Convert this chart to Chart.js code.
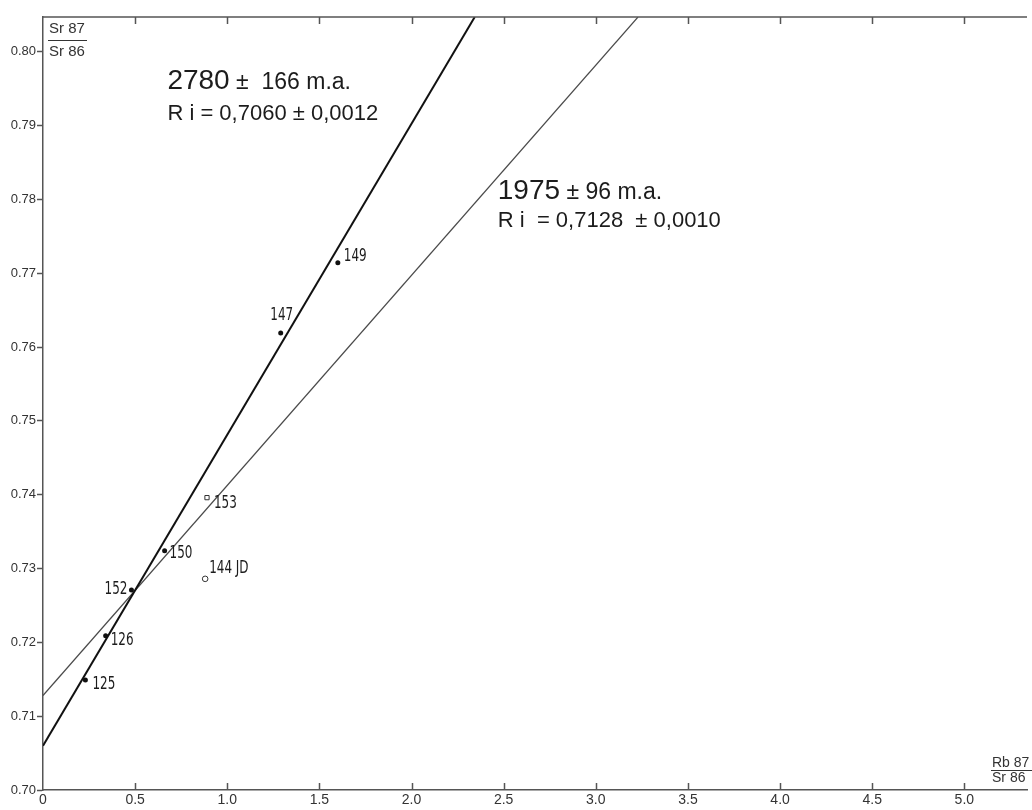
<!DOCTYPE html>
<html>
<head>
<meta charset="utf-8">
<script src="https://cdn.jsdelivr.net/npm/chart.js@4"></script>
<style>
  body { margin: 0; background: #fff; }
</style>
</head>
<body>
<canvas id="isochron" width="1032" height="810"></canvas>
<script>
// samples: Rb87/Sr86 against Sr87/Sr86
var sampleIds = ['125', '126', '152', '150', '144 JD', '153', '147', '149'];
var rbSr = [0.23, 0.34, 0.48, 0.66, 0.88, 0.89, 1.29, 1.60];
var srSr = [0.7149, 0.7209, 0.7271, 0.7324, 0.7286, 0.7396, 0.7619, 0.7714];

// the two isochrons, drawn up to the top of the frame
var isoOldX = [0, 2.343];
var isoOldY = [0.7060, 0.8047];
var isoYoungX = [0, 3.229];
var isoYoungY = [0.7128, 0.8047];

var xTicks = [0, 0.5, 1.0, 1.5, 2.0, 2.5, 3.0, 3.5, 4.0, 4.5, 5.0];
var xTickLabels = ['0', '0.5', '1.0', '1.5', '2.0', '2.5', '3.0', '3.5', '4.0', '4.5', '5.0'];
var yTicks = [0.70, 0.71, 0.72, 0.73, 0.74, 0.75, 0.76, 0.77, 0.78, 0.79, 0.80];
var yTickLabels = ['0.70', '0.71', '0.72', '0.73', '0.74', '0.75', '0.76', '0.77', '0.78', '0.79', '0.80'];

// marker kind per sample (everything else is a filled dot)
var openCircle = ['144 JD'];
var openSquare = ['153'];

var narrow = "'Liberation Sans Narrow', 'DejaVu Sans Condensed', sans-serif";
var plain = "'Liberation Sans', Arimo, sans-serif";
var ink = '#1c1c1c';

function pts(xs, ys, keep) {
    var out = [];
    for (var i = 0; i < xs.length; i++) {
        if (!keep || keep(i)) out.push({x: xs[i], y: ys[i], id: sampleIds[i]});
    }
    return out;
}

// where each sample label sits relative to its marker (px)
var labelOffset = {
    '125': [7, 4, 'left'], '126': [5, 5, 'left'], '152': [-4, -1, 'right'],
    '150': [5, 3, 'left'], '144 JD': [4, -11, 'left'], '153': [7, 6, 'left'],
    '147': [1, -18, 'center'], '149': [6, -7, 'left']
};

var overlay = {
    id: 'overlay',
    afterDatasetsDraw: function(chart) {
        var ctx = chart.ctx, a = chart.chartArea;
        var x = chart.scales.x, y = chart.scales.y;
        ctx.save();
        // top frame line
        ctx.strokeStyle = '#555';
        ctx.lineWidth = 1.5;
        ctx.beginPath();
        ctx.moveTo(a.left, a.top);
        ctx.lineTo(a.right, a.top);
        ctx.stroke();
        // inward ticks top and bottom
        xTicks.forEach(function(v) {
            if (v === 0) return;
            var px = Math.round(x.getPixelForValue(v)) + 0.5;
            ctx.beginPath();
            ctx.moveTo(px, a.bottom); ctx.lineTo(px, a.bottom - 7);
            ctx.moveTo(px, a.top); ctx.lineTo(px, a.top + 7);
            ctx.stroke();
        });
        // sample labels, squeezed to look like the condensed lettering
        ctx.fillStyle = ink;
        ctx.font = '18px ' + narrow;
        ctx.textBaseline = 'middle';
        var sx = 0.74;
        for (var i = 0; i < sampleIds.length; i++) {
            var o = labelOffset[sampleIds[i]];
            ctx.save();
            ctx.translate(x.getPixelForValue(rbSr[i]) + o[0], y.getPixelForValue(srSr[i]) + o[1]);
            ctx.scale(sx, 1);
            ctx.textAlign = o[2];
            ctx.fillText(sampleIds[i], 0, 0);
            ctx.restore();
        }
        // age annotations
        ctx.textBaseline = 'alphabetic';
        ctx.textAlign = 'left';
        function age(big, rest, ri, vx, vy1, vy2) {
            var px = x.getPixelForValue(vx);
            ctx.font = '28px ' + plain;
            ctx.fillText(big, px, y.getPixelForValue(vy1));
            var w = ctx.measureText(big).width;
            ctx.font = '23px ' + plain;
            ctx.fillText(rest, px + w, y.getPixelForValue(vy1));
            ctx.font = '22px ' + plain;
            ctx.fillText(ri, px, y.getPixelForValue(vy2));
        }
        age('2780', ' \u00b1  166 m.a.', 'R i = 0,7060 \u00b1 0,0012', 0.675, 0.7949, 0.7908);
        age('1975', ' \u00b1 96 m.a.', 'R i  = 0,7128  \u00b1 0,0010', 2.468, 0.7801, 0.7763);
        // axis titles as fractions
        ctx.fillStyle = '#333';
        ctx.strokeStyle = '#333';
        ctx.lineWidth = 1;
        ctx.font = '15px ' + plain;
        ctx.fillText('Sr 87', a.left + 6, 33);
        ctx.fillText('Sr 86', a.left + 6, 56);
        ctx.beginPath(); ctx.moveTo(a.left + 5, 40.5); ctx.lineTo(a.left + 44, 40.5); ctx.stroke();
        ctx.font = '14px ' + plain;
        ctx.fillText('Rb 87', 992, 767);
        ctx.fillText('Sr 86', 992, 782);
        ctx.beginPath(); ctx.moveTo(991, 770.5); ctx.lineTo(1032, 770.5); ctx.stroke();
        ctx.restore();
    }
};

var ctx = document.getElementById('isochron').getContext('2d');
var chart = new Chart(ctx, {
    type: 'scatter',
    data: {
        datasets: [
            {
                label: '2780 m.a.',
                data: [{x: isoOldX[0], y: isoOldY[0]}, {x: isoOldX[1], y: isoOldY[1]}],
                showLine: true, borderColor: '#111', borderWidth: 2, pointRadius: 0
            },
            {
                label: '1975 m.a.',
                data: [{x: isoYoungX[0], y: isoYoungY[0]}, {x: isoYoungX[1], y: isoYoungY[1]}],
                showLine: true, borderColor: '#4a4a4a', borderWidth: 1.2, pointRadius: 0
            },
            {
                label: 'samples',
                data: pts(rbSr, srSr, function(i) {
                    return openCircle.indexOf(sampleIds[i]) < 0 && openSquare.indexOf(sampleIds[i]) < 0;
                }),
                pointStyle: 'circle', pointRadius: 2.5, backgroundColor: '#111', borderColor: '#111', borderWidth: 0
            },
            {
                label: 'open circle',
                data: pts(rbSr, srSr, function(i) { return openCircle.indexOf(sampleIds[i]) >= 0; }),
                pointStyle: 'circle', pointRadius: 2.8, backgroundColor: '#fff', borderColor: '#333', borderWidth: 1
            },
            {
                label: 'open square',
                data: pts(rbSr, srSr, function(i) { return openSquare.indexOf(sampleIds[i]) >= 0; }),
                pointStyle: 'rect', pointRadius: 3, backgroundColor: '#fff', borderColor: '#333', borderWidth: 1
            }
        ]
    },
    options: {
        responsive: false,
        animation: false,
        layout: {padding: {top: 17, right: 0, left: 0, bottom: 0}},
        plugins: {legend: {display: false}, tooltip: {enabled: false}},
        scales: {
            x: {
                type: 'linear', min: 0, max: 5.34,
                afterBuildTicks: function(s) { s.ticks = xTicks.map(function(v) { return {value: v}; }); },
                afterFit: function(s) { s.height = 20; },
                ticks: {
                    callback: function(v, i) { return xTickLabels[i]; },
                    color: '#333', font: {size: 14, family: plain}, padding: 2, maxRotation: 0, autoSkip: false
                },
                grid: {drawOnChartArea: false, drawTicks: false},
                border: {color: '#555', width: 1.5}
            },
            y: {
                type: 'linear', min: 0.70, max: 0.8047,
                afterBuildTicks: function(s) { s.ticks = yTicks.map(function(v) { return {value: v}; }); },
                afterFit: function(s) { s.width = 43; },
                ticks: {
                    callback: function(v, i) { return yTickLabels[i]; },
                    color: '#333', font: {size: 13, family: plain}, padding: 1, autoSkip: false
                },
                grid: {drawOnChartArea: false, tickLength: 6, tickColor: '#555', tickWidth: 1.5},
                border: {color: '#555', width: 1.5}
            }
        }
    },
    plugins: [overlay]
});
</script>
</body>
</html>
